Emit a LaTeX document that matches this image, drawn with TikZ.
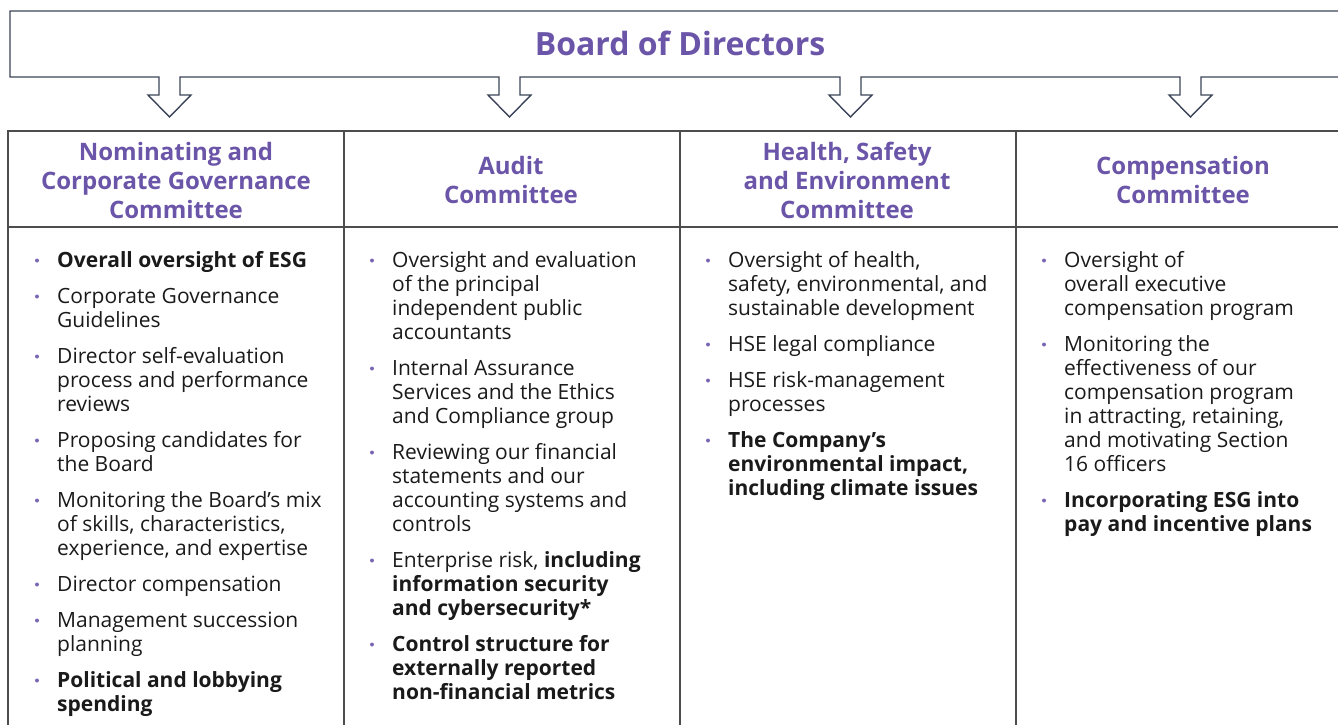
\documentclass[tikz,border=0pt]{standalone}
\usepackage{fontspec}
\setmainfont{Open Sans}
\definecolor{purp}{HTML}{6A55A8}
\definecolor{bulc}{HTML}{7A67B6}
\definecolor{boxline}{HTML}{3C4358}
\definecolor{tabline}{HTML}{4D4D4D}
\definecolor{bodytext}{HTML}{1A1A1A}
\newcommand{\bl}[1]{\begin{tabular}[t]{@{}l@{}}#1\end{tabular}}
\tikzset{
  body/.style={anchor=base west, inner sep=0pt, text=bodytext, font=\fontsize{21}{24}\selectfont},
  head/.style={anchor=center, inner sep=0pt, align=center, text=purp, font=\fontsize{24}{29}\selectfont\bfseries},
  title/.style={anchor=center, inner sep=0pt, text=purp, font=\fontsize{32}{38}\selectfont\bfseries},
  boxpath/.style={draw=boxline, line width=1.4pt, line join=miter},
  tabpath/.style={draw=tabline, line width=1.8pt},
  bulletdot/.style={fill=bulc}
}
\newcommand{\bul}[1]{\fill[bulletdot] ([xshift=-20pt,yshift=6.5pt]#1.base west) circle (2pt);}
\begin{document}
\begin{tikzpicture}[x=1pt,y=-1pt]
\useasboundingbox (0,0) rectangle (1338,724);
% board box with arrows
\draw[boxpath] (1345,11) -- (10,11) -- (10,77)
  -- (159,77) -- (159,95) -- (148,95) -- (169.5,117) -- (191,95) -- (180,95) -- (180,77)
  -- (499,77) -- (499,95) -- (488,95) -- (509.5,117) -- (531,95) -- (520,95) -- (520,77)
  -- (840,77) -- (840,95) -- (829,95) -- (850.5,117) -- (872,95) -- (861,95) -- (861,77)
  -- (1180,77) -- (1180,95) -- (1169,95) -- (1190.5,117) -- (1212,95) -- (1201,95) -- (1201,77)
  -- (1345,77);
\node[title] (board) at (680,43) {Board of Directors};
% table
\draw[tabpath] (1345,131) -- (8,131) -- (8,730);
\draw[tabpath] (8,227) -- (1345,227);
\draw[tabpath] (344,131) -- (344,730);
\draw[tabpath] (680,131) -- (680,730);
\draw[tabpath] (1016,131) -- (1016,730);
% headers
\node[head] (h1) at (176,180) {Nominating and\\Corporate Governance\\Committee};
\node[head] (h2) at (511,180) {Audit\\Committee};
\node[head] (h3) at (847,180) {Health, Safety\\and Environment\\Committee};
\node[head] (h4) at (1183,180) {Compensation\\Committee};
% column 1
\node[body] (a1) at (57,267) {\bl{\textbf{Overall oversight of ESG}}};
\node[body] (a2) at (57,303) {\bl{Corporate Governance\\Guidelines}};
\node[body] (a3) at (57,363) {\bl{Director self-evaluation\\process and performance\\reviews}};
\node[body] (a4) at (57,447) {\bl{Proposing candidates for\\the Board}};
\node[body] (a5) at (57,507) {\bl{Monitoring the Board’s mix\\of skills, characteristics,\\experience, and expertise}};
\node[body] (a6) at (57,591) {\bl{Director compensation}};
\node[body] (a7) at (57,627) {\bl{Management succession\\planning}};
\node[body] (a8) at (57,687) {\bl{\textbf{Political and lobbying}\\\textbf{spending}}};
% column 2
\node[body] (b1) at (392,267) {\bl{Oversight and evaluation\\of the principal\\independent public\\accountants}};
\node[body] (b2) at (392,375) {\bl{Internal Assurance\\Services and the Ethics\\and Compliance group}};
\node[body] (b3) at (392,459) {\bl{Reviewing our financial\\statements and our\\accounting systems and\\controls}};
\node[body] (b4) at (392,567) {\bl{Enterprise risk, \textbf{including}\\\textbf{information security}\\\textbf{and cybersecurity*}}};
\node[body] (b5) at (392,651) {\bl{\textbf{Control structure for}\\\textbf{externally reported}\\\textbf{non-financial metrics}}};
% column 3
\node[body] (c1) at (728,267) {\bl{Oversight of health,\\safety, environmental, and\\sustainable development}};
\node[body] (c2) at (728,351) {\bl{HSE legal compliance}};
\node[body] (c3) at (728,387) {\bl{HSE risk-management\\processes}};
\node[body] (c4) at (728,447) {\bl{\textbf{The Company’s}\\\textbf{environmental impact,}\\\textbf{including climate issues}}};
% column 4
\node[body] (d1) at (1064,267) {\bl{Oversight of\\overall executive\\compensation program}};
\node[body] (d2) at (1064,351) {\bl{Monitoring the\\effectiveness of our\\compensation program\\in attracting, retaining,\\and motivating Section\\16 officers}};
\node[body] (d3) at (1064,507) {\bl{\textbf{Incorporating ESG into}\\\textbf{pay and incentive plans}}};
% bullets
\foreach \n in {a1,a2,a3,a4,a5,a6,a7,a8,b1,b2,b3,b4,b5,c1,c2,c3,c4,d1,d2,d3} {\bul{\n}}
\end{tikzpicture}
\end{document}
